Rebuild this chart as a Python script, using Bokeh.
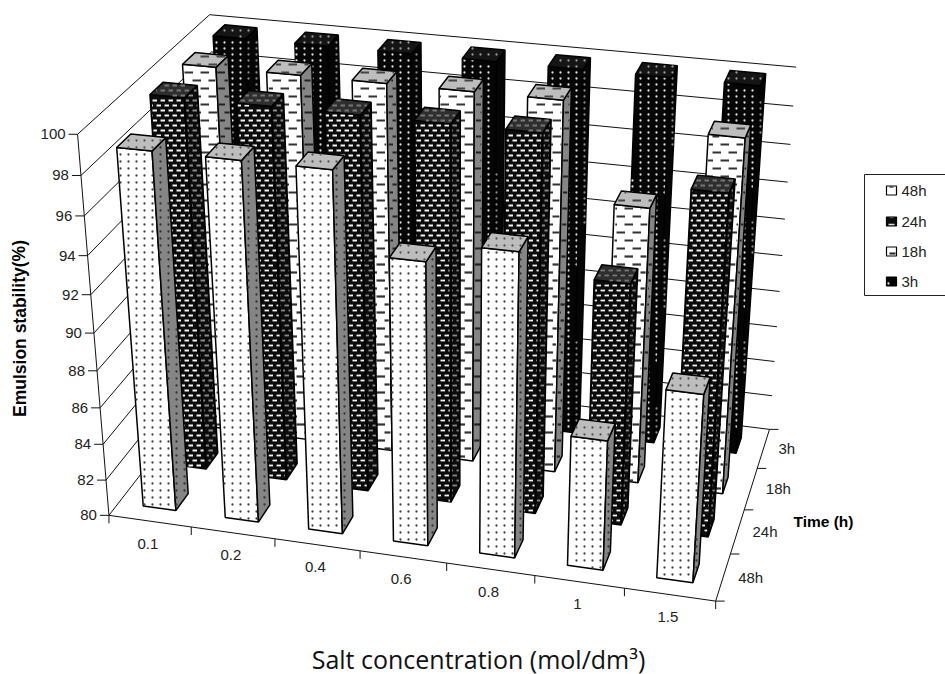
import numpy as np
from bokeh.plotting import figure
from bokeh.models import Range1d
from bokeh.core.properties import value
from bokeh.embed import file_html
from bokeh.resources import INLINE

# ---- data
salt_labels = ["0.1", "0.2", "0.4", "0.6", "0.8", "1", "1.5"]
time_labels = ["48h", "24h", "18h", "3h"]
stability_48h = [99, 99, 99, 95, 96, 87, 90]
stability_24h = [100, 100, 100, 100, 100, 93, 98]
stability_18h = [100, 100, 100, 100, 100, 95, 99]
stability_3h = [100, 100, 100, 100, 100, 100, 100]
value_ticks = [80, 82, 84, 86, 88, 90, 92, 94, 96, 98, 100]
series = [stability_48h, stability_24h, stability_18h, stability_3h]

# ---- projection of the 3-D box: (category, depth, value) -> page pixel
left_y = [515, 479, 444, 407, 370, 332, 294, 255, 216, 175, 134]
left_x = [108, 106, 103, 100, 97, 94, 91, 87, 83, 80, 77]
back_y = [429, 395, 361, 326, 291, 255, 219, 182, 144, 105, 67]
back_x = [769, 771, 774, 776, 779, 782, 784, 787, 790, 793, 796]
front_pts = [(108, 515), (191, 527), (274, 538), (359, 551), (446, 563), (534, 576), (624, 588), (715, 600)]
side_pts = [(715, 600), (730, 553), (745, 509), (757, 468), (769, 429)]
cal = []
for k in range(11):
    cal.append((0, 0, k / 10, left_x[k], left_y[k]))
    cal.append((1, 1, k / 10, back_x[k], back_y[k]))
for i, (u, v) in enumerate(front_pts):
    cal.append((i / 7, 0, 0, u, v))
for j, (u, v) in enumerate(side_pts):
    cal.append((1, j / 4, 0, u, v))
cal.append((0, 1, 1, 209, 14))
A = []
for x, y, z, u, v in cal:
    X = [x, y, z, 1]
    A.append(X + [0, 0, 0, 0] + [-u * c for c in X])
    A.append([0, 0, 0, 0] + X + [-v * c for c in X])
P = np.linalg.svd(np.array(A, float))[2][-1].reshape(3, 4)


def proj(cat, depth, val):
    """cat in 0..7, depth in 0..4 (0 = front), val in chart units"""
    h = P @ np.array([cat / 7, depth / 4, (val - 80) / 20, 1.0])
    return float(h[0] / h[2]), float(h[1] / h[2])


# ---- fill patterns: a page lattice of dots or dashes, kept inside a convex face
def inside(xs, ys, px, py, margin=1.0):
    n = len(xs)
    cx, cy = sum(xs) / n, sum(ys) / n
    for k in range(n):
        x0, y0, x1, y1 = xs[k], ys[k], xs[(k + 1) % n], ys[(k + 1) % n]
        nx, ny = y1 - y0, x0 - x1
        norm = (nx * nx + ny * ny) ** 0.5 or 1
        nx, ny = nx / norm, ny / norm
        if (cx - x0) * nx + (cy - y0) * ny < 0:
            nx, ny = -nx, -ny
        if (px - x0) * nx + (py - y0) * ny < margin:
            return False
    return True


def lattice(xs, ys, period_x, period_y, stagger):
    r0 = int(np.floor(min(ys) / period_y))
    r1 = int(np.ceil(max(ys) / period_y))
    for r in range(r0, r1 + 1):
        off = period_x / 2 if (stagger and r % 2) else 0
        c0 = int(np.floor(min(xs) / period_x)) - 1
        c1 = int(np.ceil(max(xs) / period_x)) + 1
        for c in range(c0, c1 + 1):
            yield c * period_x + off, r * period_y


def dot_marks(xs, ys, px, py, stagger):
    out_x, out_y = [], []
    for a, b in lattice(xs, ys, px, py, stagger):
        if inside(xs, ys, a, b):
            out_x.append(a)
            out_y.append(b)
    return out_x, out_y


def dash_marks(xs, ys, px, py, w, stagger):
    x0, x1, y0 = [], [], []
    for a, b in lattice(xs, ys, px, py, stagger):
        kept = [t for t in np.linspace(a, a + w, 11) if inside(xs, ys, t, b)]
        if len(kept) >= 2:
            x0.append(kept[0])
            x1.append(kept[-1])
            y0.append(b)
    return x0, x1, y0


W, H = 945, 674
p = figure(width=W, height=H, x_range=Range1d(0, W), y_range=Range1d(H, 0),
           output_backend="svg", toolbar_location=None, min_border=0, outline_line_color=None)
p.xaxis.visible = False
p.yaxis.visible = False
p.grid.visible = False
p.background_fill_color = "white"
p.border_fill_color = "white"

# ---- walls
xs, ys = [], []
for t in value_ticks:
    a, b, c = proj(0, 0, t), proj(0, 4, t), proj(7, 4, t)
    xs.append([a[0], b[0], c[0]])
    ys.append([a[1], b[1], c[1]])
p.multi_line(xs, ys, line_color="#111111", line_width=1)

# ---- bars: per face (fill, pattern colour)
styles = [
    dict(kind="dot", px=8, py=7, stagger=False, size=2.3,
         front=("#ffffff", "#444444"), side=("#858585", "#333333"), top=("#bdbdbd", "#555555")),
    dict(kind="dash", px=8, py=5, w=4.5, t=1.8, stagger=True,
         front=("#0c0c0c", "#f2f2f2"), side=("#0c0c0c", "#8a8a8a"), top=("#2e2e2e", "#777777")),
    dict(kind="dash", px=16, py=8, w=8.5, t=2.2, stagger=True,
         front=("#ffffff", "#333333"), side=("#858585", "#222222"), top=("#bdbdbd", "#444444")),
    dict(kind="dot", px=8, py=6, stagger=False, size=2.3,
         front=("#050505", "#dddddd"), side=("#050505", "#888888"), top=("#151515", "#999999")),
]
GAP = 0.3
FACES = ["front", "side", "top"]


def draw_pattern(st, face, polys):
    colour = st[face][1]
    if st["kind"] == "dot":
        dx, dy = [], []
        for xs_, ys_ in polys:
            a, b = dot_marks(xs_, ys_, st["px"], st["py"], st["stagger"])
            dx += a
            dy += b
        p.scatter(dx, dy, marker="circle", size=st["size"], fill_color=colour, line_color=None)
    else:
        x0, x1, y0 = [], [], []
        for xs_, ys_ in polys:
            a, b, c = dash_marks(xs_, ys_, st["px"], st["py"], st["w"], st["stagger"])
            x0 += a
            x1 += b
            y0 += c
        p.segment(x0, y0, x1, y0, line_color=colour, line_width=st["t"])


for j in [3, 2, 1, 0]:
    faces = {f: ([], []) for f in FACES}
    for i, v in enumerate(series[j]):
        x0, x1 = i + GAP, i + 1 - GAP
        y0, y1 = j + GAP, j + 1 - GAP
        quads = {
            "front": [(x0, y0, 80), (x1, y0, 80), (x1, y0, v), (x0, y0, v)],
            "side": [(x1, y0, 80), (x1, y1, 80), (x1, y1, v), (x1, y0, v)],
            "top": [(x0, y0, v), (x1, y0, v), (x1, y1, v), (x0, y1, v)],
        }
        for name, q in quads.items():
            pts = [proj(*c) for c in q]
            faces[name][0].append([a for a, _ in pts])
            faces[name][1].append([b for _, b in pts])
    st = styles[j]
    for name in FACES:
        p.patches(faces[name][0], faces[name][1], fill_color=st[name][0], line_color="black", line_width=1.5)
        draw_pattern(st, name, list(zip(faces[name][0], faces[name][1])))

# ---- axes lines and ticks
p.line(*zip(proj(0, 0, 100), proj(0, 0, 80)), line_color="#111111", line_width=1)
p.line(*zip(proj(0, 0, 80), proj(7, 0, 80)), line_color="#111111", line_width=1)
p.line(*zip(proj(7, 0, 80), proj(7, 4, 80)), line_color="#111111", line_width=1)
tx, ty = [], []
for t in value_ticks:
    a, b = proj(0, 0, t)
    tx.append([a - 9, a])
    ty.append([b, b])
    p.text([a - 12], [b], text=[str(t)], text_align="right", text_baseline="middle",
           text_font=value("Liberation Sans"), text_font_size="15px", text_color="#222222")
a, b = proj(0, 0, 80)
tx.append([a, a])
ty.append([b, b + 8])
for i in range(1, 8):
    a, b = proj(i, 0, 80)
    tx.append([a, a])
    ty.append([b, b + 8])
for i, lab in enumerate(salt_labels):
    a, b = proj(i + 0.5, 0, 80)
    p.text([a - 2], [b + 22.5], text=[lab], text_align="center", text_baseline="middle",
           text_font=value("Liberation Sans"), text_font_size="15px", text_color="#222222")
for j in range(5):
    a, b = proj(7, j, 80)
    tx.append([a, a + 9])
    ty.append([b, b])
for j, lab in enumerate(time_labels):
    a, b = proj(7, j + 0.5, 80)
    p.text([a + 15], [b], text=[lab], text_align="left", text_baseline="middle",
           text_font=value("Liberation Sans"), text_font_size="15px", text_color="#222222")
p.multi_line(tx, ty, line_color="#111111", line_width=1)

# ---- titles
p.text([19], [328], text=["Emulsion stability(%)"], angle=[np.pi / 2], text_align="center",
       text_baseline="middle", text_font=value("Liberation Sans"), text_font_style="bold",
       text_font_size="17.5px", text_color="black")
p.text([793], [521], text=["Time (h)"], text_align="left", text_baseline="middle",
       text_font=value("Liberation Sans"), text_font_style="bold", text_font_size="15.5px",
       text_color="black")
p.text([478], [658], text=["Salt concentration (mol/dm\u00b3)"], text_align="center",
       text_baseline="middle", text_font=value("Open Sans"), text_font_size="25px",
       text_color="#111111")

# ---- legend
p.multi_line([[945, 864, 864, 945]], [[174, 174, 295, 295]], line_color="#222222", line_width=1)
rows = [190, 221, 251, 281]
for lab, yy, st in zip(time_labels, rows, styles):
    p.quad(left=[886], right=[896], top=[yy - 4.5], bottom=[yy + 4.5], fill_color=st["front"][0],
           line_color="black", line_width=1.2)
    p.text([901], [yy], text=[lab], text_align="left", text_baseline="middle",
           text_font=value("Liberation Sans"), text_font_size="15px", text_color="#222222")
# swatch interiors, as the reference shows them at this small size
p.segment([889, 889], [186.5, 217], [893, 893], [186.5, 217], line_color="#444444", line_width=1.3)
p.segment([888], [224], [894], [224], line_color="#dddddd", line_width=1.5)
p.segment([889], [253], [895], [253], line_color="#222222", line_width=2)
p.scatter([888], [283], marker="circle", size=2.3, fill_color="#dddddd", line_color=None)

open("out.html", "w").write(file_html(p, INLINE))
